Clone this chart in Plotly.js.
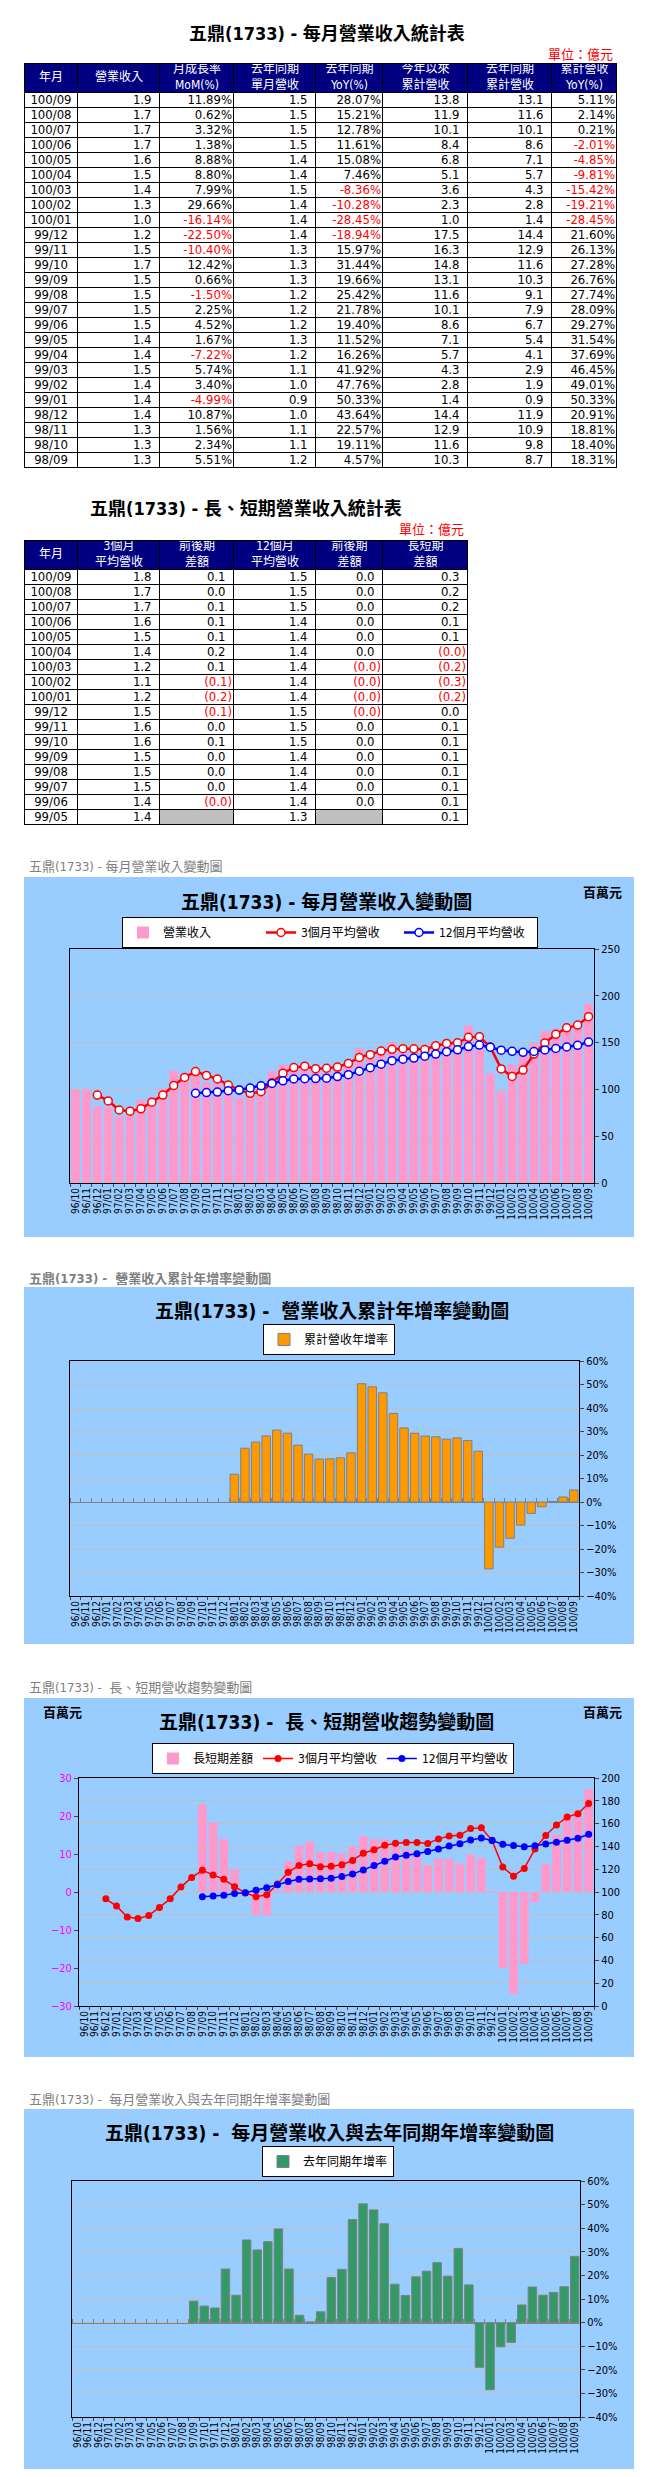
<!DOCTYPE html>
<html>
<head>
<meta charset="utf-8">
<script src="https://cdn.plot.ly/plotly-3.0.1.min.js"></script>
<style>
body { margin: 0; background: #fff; }
#page { position: relative; width: 661px; height: 2477px; }
#page > div { position: absolute; left: 0; width: 661px; }
</style>
</head>
<body>
<div id="page">
  <div id="table1" style="top:0;height:470px"></div>
  <div id="table2" style="top:470px;height:360px"></div>
  <div id="chart1" style="top:850px;height:395px"></div>
  <div id="chart2" style="top:1265px;height:385px"></div>
  <div id="chart3" style="top:1660px;height:405px"></div>
  <div id="chart4" style="top:2077px;height:400px"></div>
</div>
<script>
// ---- table 1 data (億元, %) ----
const tblMonths = ['100/09','100/08','100/07','100/06','100/05','100/04','100/03','100/02','100/01','99/12','99/11','99/10','99/09','99/08','99/07','99/06','99/05','99/04','99/03','99/02','99/01','98/12','98/11','98/10','98/09'];
const tblRevenue = [1.9,1.7,1.7,1.7,1.6,1.5,1.4,1.3,1.0,1.2,1.5,1.7,1.5,1.5,1.5,1.5,1.4,1.4,1.5,1.4,1.4,1.4,1.3,1.3,1.3];
const tblMom = [11.89,0.62,3.32,1.38,8.88,8.80,7.99,29.66,-16.14,-22.50,-10.40,12.42,0.66,-1.50,2.25,4.52,1.67,-7.22,5.74,3.40,-4.99,10.87,1.56,2.34,5.51];
const tblLastYear = [1.5,1.5,1.5,1.5,1.4,1.4,1.5,1.4,1.4,1.4,1.3,1.3,1.3,1.2,1.2,1.2,1.3,1.2,1.1,1.0,0.9,1.0,1.1,1.1,1.2];
const tblYoy = [28.07,15.21,12.78,11.61,15.08,7.46,-8.36,-10.28,-28.45,-18.94,15.97,31.44,19.66,25.42,21.78,19.40,11.52,16.26,41.92,47.76,50.33,43.64,22.57,19.11,4.57];
const tblYtd = [13.8,11.9,10.1,8.4,6.8,5.1,3.6,2.3,1.0,17.5,16.3,14.8,13.1,11.6,10.1,8.6,7.1,5.7,4.3,2.8,1.4,14.4,12.9,11.6,10.3];
const tblLastYtd = [13.1,11.6,10.1,8.6,7.1,5.7,4.3,2.8,1.4,14.4,12.9,11.6,10.3,9.1,7.9,6.7,5.4,4.1,2.9,1.9,0.9,11.9,10.9,9.8,8.7];
const tblYtdYoy = [5.11,2.14,0.21,-2.01,-4.85,-9.81,-15.42,-19.21,-28.45,21.60,26.13,27.28,26.76,27.74,28.09,29.27,31.54,37.69,46.45,49.01,50.33,20.91,18.81,18.40,18.31];

// ---- table 2 data (億元) ----
const t2Months = ['100/09','100/08','100/07','100/06','100/05','100/04','100/03','100/02','100/01','99/12','99/11','99/10','99/09','99/08','99/07','99/06','99/05'];
const t2Avg3 = [1.8,1.7,1.7,1.6,1.5,1.4,1.2,1.1,1.2,1.5,1.6,1.6,1.5,1.5,1.5,1.4,1.4];
const t2Avg3Diff = [0.09,0.03,0.07,0.09,0.12,0.17,0.07,-0.08,-0.23,-0.11,0.01,0.06,0.01,0.03,0.04,-0.01,null];
const t2Avg12 = [1.5,1.5,1.5,1.4,1.4,1.4,1.4,1.4,1.4,1.5,1.5,1.5,1.4,1.4,1.4,1.4,1.3];
const t2Avg12Diff = [0.03,0.02,0.02,0.02,0.02,0.01,-0.01,-0.01,-0.03,-0.02,0.02,0.03,0.02,0.03,0.02,0.02,null];
const t2LongShort = [0.27,0.22,0.20,0.15,0.07,-0.03,-0.19,-0.27,-0.20,0.00,0.09,0.10,0.08,0.09,0.09,0.07,0.10];

// ---- chart data (百萬元, %) ----
const months = ['96/10','96/11','96/12','97/01','97/02','97/03','97/04','97/05','97/06','97/07','97/08','97/09',
  '97/10','97/11','97/12','98/01','98/02','98/03','98/04','98/05','98/06','98/07','98/08','98/09',
  '98/10','98/11','98/12','99/01','99/02','99/03','99/04','99/05','99/06','99/07','99/08','99/09',
  '99/10','99/11','99/12','100/01','100/02','100/03','100/04','100/05','100/06','100/07','100/08','100/09'];
const revenue = [100,100,82,81,71,78,89,92,101,120,117.5,119.6,
  107.5,106.1,100.4,91.1,95.8,105.6,119.6,126.7,123.6,124.0,118.6,125.1,
  128.0,130.0,144.2,137.0,141.6,149.8,139.0,141.3,147.6,151.0,148.7,149.7,
  168.3,150.8,116.8,98.0,127.0,137.2,149.2,162.5,164.7,170.2,171.2,191.6];
const avg3 = [null,null,94.0,87.7,78.0,76.7,79.3,86.3,94.0,104.3,112.8,119.0,
  114.9,111.1,104.7,99.2,95.8,97.5,107.0,117.3,123.3,124.8,122.1,122.6,
  123.9,127.7,134.1,137.1,140.9,142.8,143.5,143.4,142.6,146.6,149.1,149.8,
  155.6,156.3,145.3,121.9,113.9,120.7,137.8,149.6,158.8,165.8,168.7,177.7];
const avg12 = [null,null,null,null,null,null,null,null,null,null,null,95.9,
  96.6,97.1,98.6,99.4,101.5,103.8,106.4,109.2,111.1,111.5,111.6,112.0,
  113.7,115.7,119.4,123.2,127.0,130.7,132.3,133.5,135.5,137.8,140.3,142.3,
  145.7,147.4,145.1,141.9,140.7,139.6,140.5,142.2,143.7,145.3,147.1,150.6];
const ytdYoy = [null,null,null,null,null,null,null,null,null,null,null,null,
  null,null,null,11.8,22.9,25.5,28.1,30.6,29.3,24.2,20.4,18.31,
  18.40,18.81,20.91,50.33,49.01,46.45,37.69,31.54,29.27,28.09,27.74,26.76,
  27.28,26.13,21.60,-28.45,-19.21,-15.42,-9.81,-4.85,-2.01,0.21,2.14,5.11];
const longShort = [null,null,null,null,null,null,null,null,null,null,null,23.1,
  18.3,14.0,6.0,-0.2,-6.1,-6.2,0.6,8.1,12.2,13.3,10.5,10.6,
  10.2,12.0,14.7,13.9,13.9,12.1,11.2,9.9,7.1,8.8,8.8,7.5,
  9.9,8.9,0.2,-20.0,-26.8,-18.9,-2.7,7.4,15.1,20.5,21.6,27.1];
const yoy = [null,null,null,null,null,null,null,null,null,null,null,9.1,
  7.0,6.2,22.7,11.6,35.0,30.8,34.3,39.7,22.7,3.1,0.3,4.57,
  19.11,22.57,43.64,50.33,47.76,41.92,16.26,11.52,19.40,21.78,25.42,19.66,
  31.44,15.97,-18.94,-28.45,-10.28,-8.36,7.46,15.08,11.61,12.78,15.21,28.07];

const FONT = "Tahoma, 'DejaVu Sans Condensed', 'Liberation Sans', 'Noto Sans CJK TC', sans-serif";
const RED = '#FF0000';
const GRID = '#BFBFBF';
const cfg = {staticPlot: true, displayModeBar: false};

// ---------- tables ----------
function num1(v) { return {text: v.toFixed(1), color: '#000', pad: 8.5}; }
function pct(v) { return {text: v.toFixed(2) + '%', color: v < 0 ? RED : '#000', pad: 2}; }
function paren(v) {
  if (v === null) return {text: '', color: '#000', pad: 8.5, fill: 2};
  if (v < 0) return {text: '(' + Math.abs(v).toFixed(1) + ')', color: RED, pad: 2};
  return {text: v.toFixed(1), color: '#000', pad: 8.5};
}

function drawTable(divId, g, widths, headers, cols, title, titleX) {
  const nRows = cols[0].length;
  const W = widths.reduce((a, b) => a + b, 0);
  const H = g.headH + nRows * g.rowH;
  const xEdges = [0];
  widths.forEach(w => xEdges.push(xEdges[xEdges.length - 1] + w));
  const yEdges = [];
  for (let i = 0; i <= nRows; i++) yEdges.push(i * g.rowH);
  yEdges.push(H);
  // heatmap rows go bottom -> top
  const z = [];
  for (let r = nRows - 1; r >= 0; r--) z.push(cols.map(c => c[r].fill || 0));
  z.push(widths.map(() => 1));

  const hx = [], hy = [], ht = [];
  headers.forEach((h, c) => { hx.push(xEdges[c] + widths[c] / 2); hy.push(H - g.headH / 2); ht.push(h); });
  const bx = [], by = [], bt = [], bc = [], bp = [];
  cols.forEach((col, c) => col.forEach((cell, r) => {
    const y = H - g.headH - (r + 0.5) * g.rowH;
    if (c === 0) { bx.push(xEdges[0] + widths[0] / 2); bp.push('middle center'); }
    else { bx.push(xEdges[c + 1] - cell.pad); bp.push('middle left'); }
    by.push(y); bt.push(cell.text); bc.push(cell.color);
  }));

  const data = [
    {type: 'heatmap', x: xEdges, y: yEdges, z: z, zmin: 0, zmax: 2, showscale: false,
     xgap: 1, ygap: 1, hoverinfo: 'skip',
     colorscale: [[0, '#FFFFFF'], [0.33, '#FFFFFF'], [0.34, '#000080'], [0.66, '#000080'], [0.67, '#C0C0C0'], [1, '#C0C0C0']]},
    {type: 'scatter', mode: 'text', x: hx, y: hy, text: ht, textposition: 'middle center',
     textfont: {family: FONT, size: 12, color: '#FFFFFF'}, hoverinfo: 'skip', cliponaxis: false},
    {type: 'scatter', mode: 'text', x: bx, y: by, text: bt, textposition: bp,
     textfont: {family: FONT, size: 13, color: bc}, hoverinfo: 'skip', cliponaxis: false}
  ];
  const layout = {
    width: 661, height: g.h,
    margin: {l: g.l, r: 661 - g.l - W, t: g.t, b: g.h - g.t - H, pad: 0},
    paper_bgcolor: '#FFFFFF', plot_bgcolor: '#000000', showlegend: false,
    font: {family: FONT},
    xaxis: {range: [0, W], visible: false, fixedrange: true},
    yaxis: {range: [0, H], visible: false, fixedrange: true},
    shapes: [{type: 'rect', xref: 'x', yref: 'y', x0: 0.5, x1: W - 0.5, y0: 0.5, y1: H - 0.5,
              line: {color: '#000', width: 1}, fillcolor: 'rgba(0,0,0,0)'}],
    annotations: [
      {text: '<b>' + title + '</b>', x: (titleX - g.l) / W, y: 1 + (g.t - g.titleY) / H, xref: 'paper', yref: 'paper',
       xanchor: 'center', yanchor: 'middle', showarrow: false, font: {size: 18, color: '#000'}},
      {text: '單位：億元', x: 1 - 2 / W, y: 1 + (g.t - g.unitY) / H, xref: 'paper', yref: 'paper',
       xanchor: 'right', yanchor: 'middle', showarrow: false, font: {size: 13, color: RED}}
    ]
  };
  Plotly.newPlot(divId, data, layout, cfg);
}

const colW = [54, 82, 74, 82, 67, 85, 84, 65];
const center = v => ({text: v, color: '#000', pad: 0});

drawTable('table1', {h: 470, l: 24, t: 63, headH: 30, rowH: 15, titleY: 33, unitY: 54}, colW,
  ['年月', '營業收入', '月成長率<br>MoM(%)', '去年同期<br>單月營收', '去年同期<br>YoY(%)', '今年以來<br>累計營收', '去年同期<br>累計營收', '累計營收<br>YoY(%)'],
  [tblMonths.map(center), tblRevenue.map(num1), tblMom.map(pct), tblLastYear.map(num1),
   tblYoy.map(pct), tblYtd.map(num1), tblLastYtd.map(num1), tblYtdYoy.map(pct)],
  '五鼎(1733) - 每月營業收入統計表', 327);

drawTable('table2', {h: 360, l: 24, t: 70, headH: 30, rowH: 15, titleY: 38, unitY: 59}, colW.slice(0, 6),
  ['年月', '3個月<br>平均營收', '前後期<br>差額', '12個月<br>平均營收', '前後期<br>差額', '長短期<br>差額'],
  [t2Months.map(center), t2Avg3.map(num1), t2Avg3Diff.map(paren), t2Avg12.map(num1),
   t2Avg12Diff.map(paren), t2LongShort.map(paren)],
  '五鼎(1733) - 長、短期營業收入統計表', 246);

// ---------- charts ----------
function chartLayout(g, s) {
  const pw = g.w - g.l - g.r, ph = g.h - g.t - g.b;
  const px = x => (x - g.l) / pw;
  const py = y => (g.h - g.b - y) / ph;
  const ann = [
    {text: s.caption, x: px(27), y: py(s.capY), xanchor: 'left', yanchor: 'middle',
     font: {size: 13, color: '#808080', weight: s.capBold ? 'bold' : 'normal'}},
    {text: '<b>' + s.title + '</b>', x: px(s.titleX), y: py(s.titleY), xanchor: 'center', yanchor: 'middle',
     font: {size: 19, color: '#000'}}
  ];
  (s.unitX || []).forEach(u => ann.push({text: '<b>百萬元</b>', x: px(u), y: py(s.unitY),
    xanchor: 'center', yanchor: 'middle', font: {size: 13, color: '#000'}}));
  ann.forEach(a => { a.xref = 'paper'; a.yref = 'paper'; a.showarrow = false; });
  return {
    width: g.w, height: g.h,
    margin: {l: g.l, r: g.r, t: g.t, b: g.b, pad: 0},
    paper_bgcolor: 'rgba(0,0,0,0)', plot_bgcolor: '#FFFFFF',
    font: {family: FONT, size: 11, color: '#000'},
    annotations: ann,
    shapes: [{type: 'rect', xref: 'paper', yref: 'paper', x0: px(24), x1: px(634),
              y0: py(s.panel[1]), y1: py(s.panel[0]), fillcolor: '#99CCFF', line: {width: 0}, layer: 'below'}],
    legend: {orientation: 'h', x: px(s.legendX), xanchor: 'center', y: py(s.legendY), yanchor: 'top',
             bgcolor: '#FFFFFF', bordercolor: '#000', borderwidth: 1, font: {size: 12},
             entrywidth: s.entrywidth || 0, traceorder: 'normal'},
    bargap: 0.2,
    hovermode: false,
    xaxis: {type: 'category', categoryarray: months, range: [-0.5, months.length - 0.5],
            tickmode: 'linear', tick0: 0, dtick: 1, tickangle: -90, tickfont: {size: 10},
            showline: true, linecolor: '#000', mirror: true, ticks: 'outside', ticklen: 3,
            tickson: 'boundaries', showgrid: false, fixedrange: true}
  };
}

function zeroAxis(layout) {
  // category axis crossing at 0, its ticks show where no bar covers them
  layout.xaxis2 = {type: 'category', categoryarray: months, range: [-0.5, months.length - 0.5],
    overlaying: 'x', anchor: 'free', position: 0.4,
    side: 'top', showticklabels: false, ticks: 'outside', ticklen: 4, tickcolor: '#808080',
    tickmode: 'linear', tick0: 0, dtick: 1,
    tickson: 'boundaries', showline: true, linecolor: '#808080', showgrid: false, layer: 'below traces',
    fixedrange: true};
}

// chart 1: monthly revenue
{
  const g = {w: 661, h: 395, l: 70, r: 67, t: 99, b: 62};
  const layout = chartLayout(g, {caption: '五鼎(1733) - 每月營業收入變動圖', capY: 17,
    title: '五鼎(1733) - 每月營業收入變動圖', titleX: 326, titleY: 52, panel: [27, 387],
    unitX: [602], unitY: 43, legendX: 330, legendY: 67, entrywidth: 93});
  layout.yaxis = {side: 'right', range: [0, 250], dtick: 50, gridcolor: GRID, zeroline: false,
    showline: true, linecolor: '#000', mirror: true, ticks: 'outside', ticklen: 4, tickfont: {size: 11}, fixedrange: true};
  const data = [
    {type: 'bar', name: '營業收入', x: months, y: revenue, marker: {color: '#FF99CC'}},
    {type: 'scatter', mode: 'lines+markers', name: '3個月平均營收', x: months, y: avg3,
     line: {color: '#FF0000', width: 2.5}, marker: {size: 8, color: '#FFFFFF', line: {color: '#FF0000', width: 1.5}}},
    {type: 'scatter', mode: 'lines+markers', name: '12個月平均營收', x: months, y: avg12,
     line: {color: '#0000FF', width: 2.5}, marker: {size: 8, color: '#FFFFFF', line: {color: '#0000FF', width: 1.5}}}
  ];
  Plotly.newPlot('chart1', data, layout, cfg);
}

// chart 2: cumulative YoY
{
  const g = {w: 661, h: 385, l: 70, r: 82, t: 96, b: 54};
  const layout = chartLayout(g, {caption: '五鼎(1733) -  營業收入累計年增率變動圖', capY: 13, capBold: true,
    title: '五鼎(1733) -  營業收入累計年增率變動圖', titleX: 332, titleY: 46, panel: [22, 379],
    legendX: 329, legendY: 59});
  layout.yaxis = {side: 'right', range: [-40, 60], dtick: 10, ticksuffix: '%', gridcolor: GRID, zeroline: false,
    showline: true, linecolor: '#000', mirror: true, ticks: 'outside', ticklen: 4, tickfont: {size: 11}, fixedrange: true};
  zeroAxis(layout);
  const data = [
    {type: 'scatter', mode: 'lines', x: months, y: months.map(() => null), xaxis: 'x2', showlegend: false, hoverinfo: 'skip'},
    {type: 'bar', name: '累計營收年增率', x: months, y: ytdYoy, marker: {color: '#FF9900', line: {color: '#808080', width: 1}}}
  ];
  Plotly.newPlot('chart2', data, layout, cfg);
}

// chart 3: long / short term trend
{
  const g = {w: 661, h: 405, l: 79, r: 67, t: 118, b: 59};
  const layout = chartLayout(g, {caption: '五鼎(1733) -  長、短期營收趨勢變動圖', capY: 27,
    title: '五鼎(1733) -  長、短期營收趨勢變動圖', titleX: 326, titleY: 62, panel: [38, 397],
    unitX: [62, 602], unitY: 53, legendX: 333, legendY: 83});
  layout.yaxis = {range: [-30, 30], dtick: 10, showgrid: false, zeroline: false, tickfont: {size: 11, color: '#FF00FF'},
    showline: true, linecolor: '#000', ticks: 'outside', ticklen: 4, fixedrange: true};
  layout.yaxis2 = {overlaying: 'y', side: 'right', range: [0, 200], dtick: 20, gridcolor: GRID, zeroline: false,
    showline: true, linecolor: '#000', ticks: 'outside', ticklen: 4, tickfont: {size: 11}, fixedrange: true};
  const data = [
    {type: 'bar', name: '長短期差額', x: months, y: longShort, marker: {color: '#FF99CC'}},
    {type: 'scatter', mode: 'lines+markers', name: '3個月平均營收', x: months, y: avg3, yaxis: 'y2',
     line: {color: '#FF0000', width: 1.5}, marker: {size: 7, color: '#FF0000'}},
    {type: 'scatter', mode: 'lines+markers', name: '12個月平均營收', x: months, y: avg12, yaxis: 'y2',
     line: {color: '#0000FF', width: 1.5}, marker: {size: 7, color: '#0000FF'}}
  ];
  Plotly.newPlot('chart3', data, layout, cfg);
}

// chart 4: monthly YoY
{
  const g = {w: 661, h: 400, l: 72, r: 81, t: 104, b: 60};
  const layout = chartLayout(g, {caption: '五鼎(1733) -  每月營業收入與去年同期年增率變動圖', capY: 22,
    title: '五鼎(1733) -  每月營業收入與去年同期年增率變動圖', titleX: 329, titleY: 56, panel: [32, 392],
    legendX: 328, legendY: 69});
  layout.yaxis = {side: 'right', range: [-40, 60], dtick: 10, ticksuffix: '%', gridcolor: GRID, zeroline: false,
    showline: true, linecolor: '#000', mirror: true, ticks: 'outside', ticklen: 4, tickfont: {size: 11}, fixedrange: true};
  zeroAxis(layout);
  const data = [
    {type: 'scatter', mode: 'lines', x: months, y: months.map(() => null), xaxis: 'x2', showlegend: false, hoverinfo: 'skip'},
    {type: 'bar', name: '去年同期年增率', x: months, y: yoy, marker: {color: '#339966', line: {color: '#808080', width: 1}}}
  ];
  Plotly.newPlot('chart4', data, layout, cfg);
}
</script>
</body>
</html>
